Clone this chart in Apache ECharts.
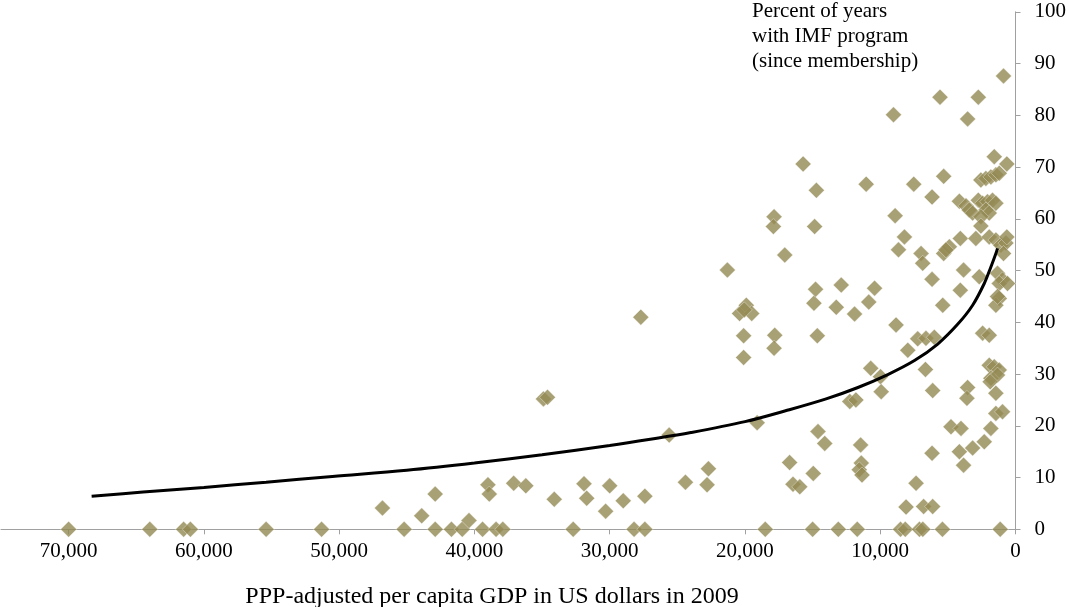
<!DOCTYPE html>
<html>
<head>
<meta charset="utf-8">
<script src="https://cdn.jsdelivr.net/npm/echarts@6/dist/echarts.min.js"></script>
<style>html,body{margin:0;padding:0;background:#fff}#c{width:1069px;height:607px}</style>
</head>
<body>
<div id="c"></div>
<script>
// GDP per capita (PPP, US$ 2009) for each country
const gdp = [
  70000,64000,61500,61000,55400,51300,45200,42900,41700,40900,39400,38400,37900,32700,28200,27400,
  18500,15000,13100,11700,8500,8150,7100,6850,5400,1130,
  46800,43900,42900,40400,39000,38900,37100,36200,34100,31900,31700,30300,30000,29000,27400,24400,25600,27700,34900,34600,
  22800,22700,20100,20100,19100,17800,17850,14900,14650,13250,11900,10850,16700,16450,15950,14950,14600,14100,12250,11800,
  11450,11400,11550,11350,10700,9980,9930,8830,7960,6660,6120,6170,7350,8090,6790,6120,
  7230,6620,6000,5380,4770,4030,4150,3840,3170,3540,3590,2430,1940,2310,1820,1450,960,1450,1940,1570,1200,1820,1330,1870,1200,1450,
  21300,20400,19900,19500,20050,17850,17900,17060,15700,14720,14850,14780,12880,11040,10420,9020,8900,8210,8650,7520,6980,6860,
  6170,6170,5580,5310,5310,4890,5140,4080,3840,4080,4150,3660,3420,3170,3540,2750,885,2560,2190,1820,1450,1200,1570,640,
  2750,2430,2070,1700,1450,2190,1940,2560,2560,2930,1940,1450,1080,710,640,885,2680,1330,960,1200,590,1330
];
// Percent of years with an IMF program (since membership)
const pct = [
  0,0,0,0,0,0,0,0,0,0,0,0,0,0,0,0,
  0,0,0,0,0,0,0,0,0,0,
  4.1,2.6,6.8,1.7,8.6,6.8,8.9,8.4,5.8,8.8,6.0,3.5,8.4,5.5,6.4,9.1,18.2,41.0,25.2,25.5,
  8.6,11.7,37.4,33.2,20.6,37.5,35.0,43.7,37.4,42.9,41.6,43.9,12.9,8.7,8.2,10.8,18.9,16.6,24.7,25.0,
  16.3,12.8,11.5,10.5,31.1,29.5,26.6,39.5,34.6,30.9,26.8,14.7,8.9,4.3,4.4,4.4,
  36.8,36.9,37.1,43.3,19.8,19.5,15.0,12.4,15.7,27.4,25.3,37.9,37.5,16.9,19.5,22.4,22.7,26.3,31.7,31.4,30.8,29.2,29.8,28.5,44.6,43.3,
  50.1,41.7,43.3,41.7,42.4,60.4,58.5,53.0,70.6,65.5,58.5,46.4,47.2,66.7,46.6,80.1,60.6,56.5,54.0,66.7,53.3,51.4,
  48.3,64.2,83.5,68.2,53.3,54.6,54.0,56.2,50.1,46.2,63.4,62.5,61.7,61.1,79.3,83.5,87.6,67.5,67.8,68.1,68.5,68.8,72.0,70.6,
  63.6,63.0,63.3,63.6,63.0,61.7,61.1,60.4,58.6,56.2,56.5,55.9,54.9,55.3,56.5,53.3,48.8,49.5,48.2,47.5,47.5,45.0
];
// Fitted trend line
const trendX = [68300,64500,60000,55400,50500,45000,40000,35000,30000,27000,24000,20000,17000,14000,11650,9440,7470,5750,4280,3170,2310,1820,1450,1330];
const trendY = [6.4,7.2,8.1,9.1,10.2,11.4,12.8,14.4,16.2,17.4,18.7,20.8,22.9,25.2,27.4,29.9,32.6,35.8,39.6,43.3,47.5,50.7,53.3,54.3];
const xTicks = [0,10000,20000,30000,40000,50000,60000,70000];
const yTitle = ['Percent of years','with IMF program','(since membership)'];
const xTitle = 'PPP-adjusted per capita GDP in US dollars in 2009';

const font = '"Liberation Serif", "Times New Roman", serif';
const axisGray = '#a0a0a0';
const chart = echarts.init(document.getElementById('c'), null, {renderer: 'canvas'});
chart.setOption({
  animation: false,
  backgroundColor: '#ffffff',
  grid: {left: 1, right: 51, top: 11.8, bottom: 77.7, containLabel: false},
  xAxis: {
    type: 'value', inverse: true, min: 0, max: 75000, interval: 10000,
    axisLine: {show: true, lineStyle: {color: axisGray, width: 1}},
    axisTick: {show: true, length: 5, lineStyle: {color: axisGray}},
    splitLine: {show: false},
    axisLabel: {
      margin: 12, color: '#000', fontFamily: font, fontSize: 21, showMaxLabel: false,
      formatter: v => xTicks.includes(v) ? v.toLocaleString('en-US') : ''
    }
  },
  yAxis: {
    type: 'value', position: 'right', min: 0, max: 100, interval: 10,
    axisLine: {show: true, lineStyle: {color: axisGray, width: 1}},
    axisTick: {show: true, length: 5, lineStyle: {color: axisGray}},
    splitLine: {show: false},
    axisLabel: {margin: 19, color: '#000', fontFamily: font, fontSize: 21}
  },
  series: [
    {
      type: 'scatter',
      data: gdp.map((x, i) => [x, pct[i]]),
      symbol: 'diamond', symbolSize: 16,
      itemStyle: {color: '#948A54', borderColor: 'rgba(255,255,255,0.55)', borderWidth: 0.8},
      z: 3
    },
    {
      type: 'line',
      data: trendX.map((x, i) => [x, trendY[i]]),
      smooth: 0.35, showSymbol: false, symbol: 'none',
      lineStyle: {color: '#000', width: 3},
      z: 4
    }
  ],
  graphic: [
    {type: 'text', left: 752, top: -1,
     style: {text: yTitle.join('\n'), font: '21px ' + font, lineHeight: 25, fill: '#000'}},
    {type: 'text', x: 492, y: 597,
     style: {text: xTitle, font: '24px ' + font, fill: '#000', align: 'center', verticalAlign: 'middle'}}
  ]
});
</script>
</body>
</html>
